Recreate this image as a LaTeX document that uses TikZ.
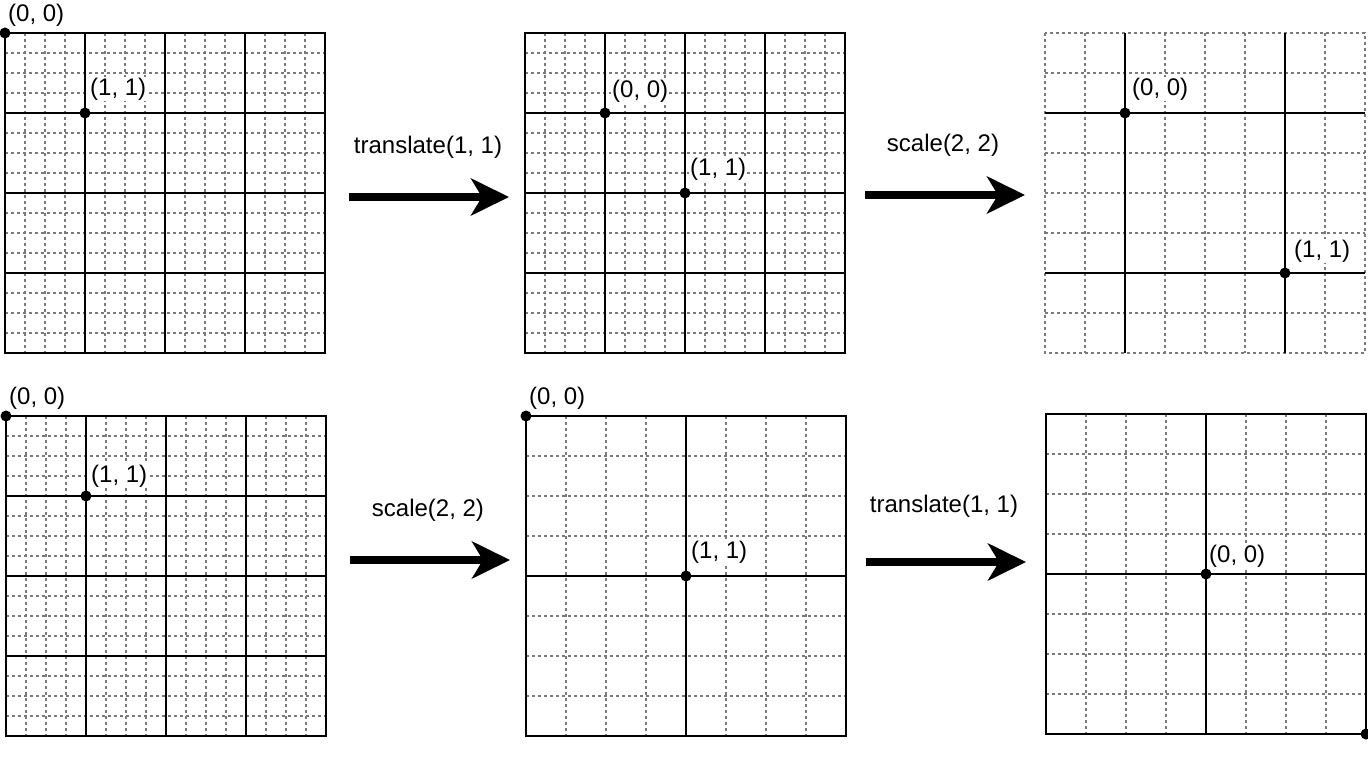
\documentclass[tikz,border=0pt]{standalone}
\usepackage{fontspec}
\setmainfont{Liberation Sans}
\usetikzlibrary{arrows.meta}
\tikzset{
  x=1pt, y=-1pt,
  minor/.style={draw=black!52, line width=1.25pt, dash pattern=on 3pt off 3pt},
  major/.style={draw=black, line width=1.5pt},
  border/.style={draw=black, line width=1.7pt},
  dot/.style={circle, fill=black, inner sep=0pt, minimum size=11pt},
  lbl/.style={fill=white, inner sep=1pt, anchor=west, font=\fontsize{24}{26}\selectfont},
  opcap/.style={inner sep=0pt, font=\fontsize{24}{26}\selectfont},
  bigarrow/.style={line width=8pt, -{Stealth[length=38pt, width=37pt, inset=11pt]}},
  finepanel/.pic={
    \foreach \i in {20,40,...,300} {
      \draw[minor] (\i,0) -- (\i,320);
      \draw[minor] (0,\i) -- (320,\i);
    }
    \foreach \i in {80,160,240} {
      \draw[major] (\i,0) -- (\i,320);
      \draw[major] (0,\i) -- (320,\i);
    }
    \draw[border] (0,0) rectangle (320,320);
  },
  coarsegrid/.pic={
    \foreach \i in {40,80,...,280} {
      \draw[minor] (\i,0) -- (\i,320);
      \draw[minor] (0,\i) -- (320,\i);
    }
  }
}
\begin{document}
\begin{tikzpicture}
\useasboundingbox (0,0) rectangle (1368,757);
\fill[white] (0,0) rectangle (1368,757);

% ---------- top row ----------
\pic at (5,33) {finepanel};
\node[dot] (ta0) at (5,33) {};
\node[dot] (ta1) at (85,113) {};
\node[lbl] (ta0l) at (7,15) {(0, 0)};
\node[lbl] (ta1l) at (89,89) {(1, 1)};

\pic at (525,33) {finepanel};
\node[dot] (tb0) at (605,113) {};
\node[dot] (tb1) at (685,193) {};
\node[lbl] (tb0l) at (611,91) {(0, 0)};
\node[lbl] (tb1l) at (689,169) {(1, 1)};

\pic at (1045,33) {coarsegrid};
\draw[minor] (1045,33) rectangle (1365,353);
\draw[major] (1125,33) -- (1125,353);
\draw[major] (1285,33) -- (1285,353);
\draw[major] (1045,113) -- (1365,113);
\draw[major] (1045,273) -- (1365,273);
\node[dot] (tc0) at (1125,113) {};
\node[dot] (tc1) at (1285,273) {};
\node[lbl] (tc0l) at (1131,89) {(0, 0)};
\node[lbl] (tc1l) at (1293,251) {(1, 1)};

\coordinate (ar1s) at (349,197);
\coordinate (ar1e) at (509,197);
\draw[bigarrow] (ar1s) -- (ar1e);
\node[opcap] (ar1l) at (428,147) {translate(1, 1)};

\coordinate (ar2s) at (865,195);
\coordinate (ar2e) at (1025,195);
\draw[bigarrow] (ar2s) -- (ar2e);
\node[opcap] (ar2l) at (943,145) {scale(2, 2)};

% ---------- bottom row ----------
\pic at (6,416) {finepanel};
\node[dot] (ba0) at (6,416) {};
\node[dot] (ba1) at (86,496) {};
\node[lbl] (ba0l) at (8,398) {(0, 0)};
\node[lbl] (ba1l) at (90,476) {(1, 1)};

\pic at (526,416) {coarsegrid};
\draw[major] (686,416) -- (686,736);
\draw[major] (526,576) -- (846,576);
\draw[border] (526,416) rectangle (846,736);
\node[dot] (bb0) at (526,416) {};
\node[dot] (bb1) at (686,576) {};
\node[lbl] (bb0l) at (528,398) {(0, 0)};
\node[lbl] (bb1l) at (690,552) {(1, 1)};

\pic at (1046,414) {coarsegrid};
\draw[major] (1206,414) -- (1206,734);
\draw[major] (1046,574) -- (1366,574);
\draw[border] (1046,414) rectangle (1366,734);
\node[dot] (bc0) at (1206,574) {};
\node[dot] (bc1) at (1366,734) {};
\node[lbl] (bc0l) at (1208,556) {(0, 0)};

\coordinate (ar3s) at (350,560);
\coordinate (ar3e) at (510,560);
\draw[bigarrow] (ar3s) -- (ar3e);
\node[opcap] (ar3l) at (428,510) {scale(2, 2)};

\coordinate (ar4s) at (866,562);
\coordinate (ar4e) at (1026,562);
\draw[bigarrow] (ar4s) -- (ar4e);
\node[opcap] (ar4l) at (944,506) {translate(1, 1)};
\end{tikzpicture}
\end{document}
